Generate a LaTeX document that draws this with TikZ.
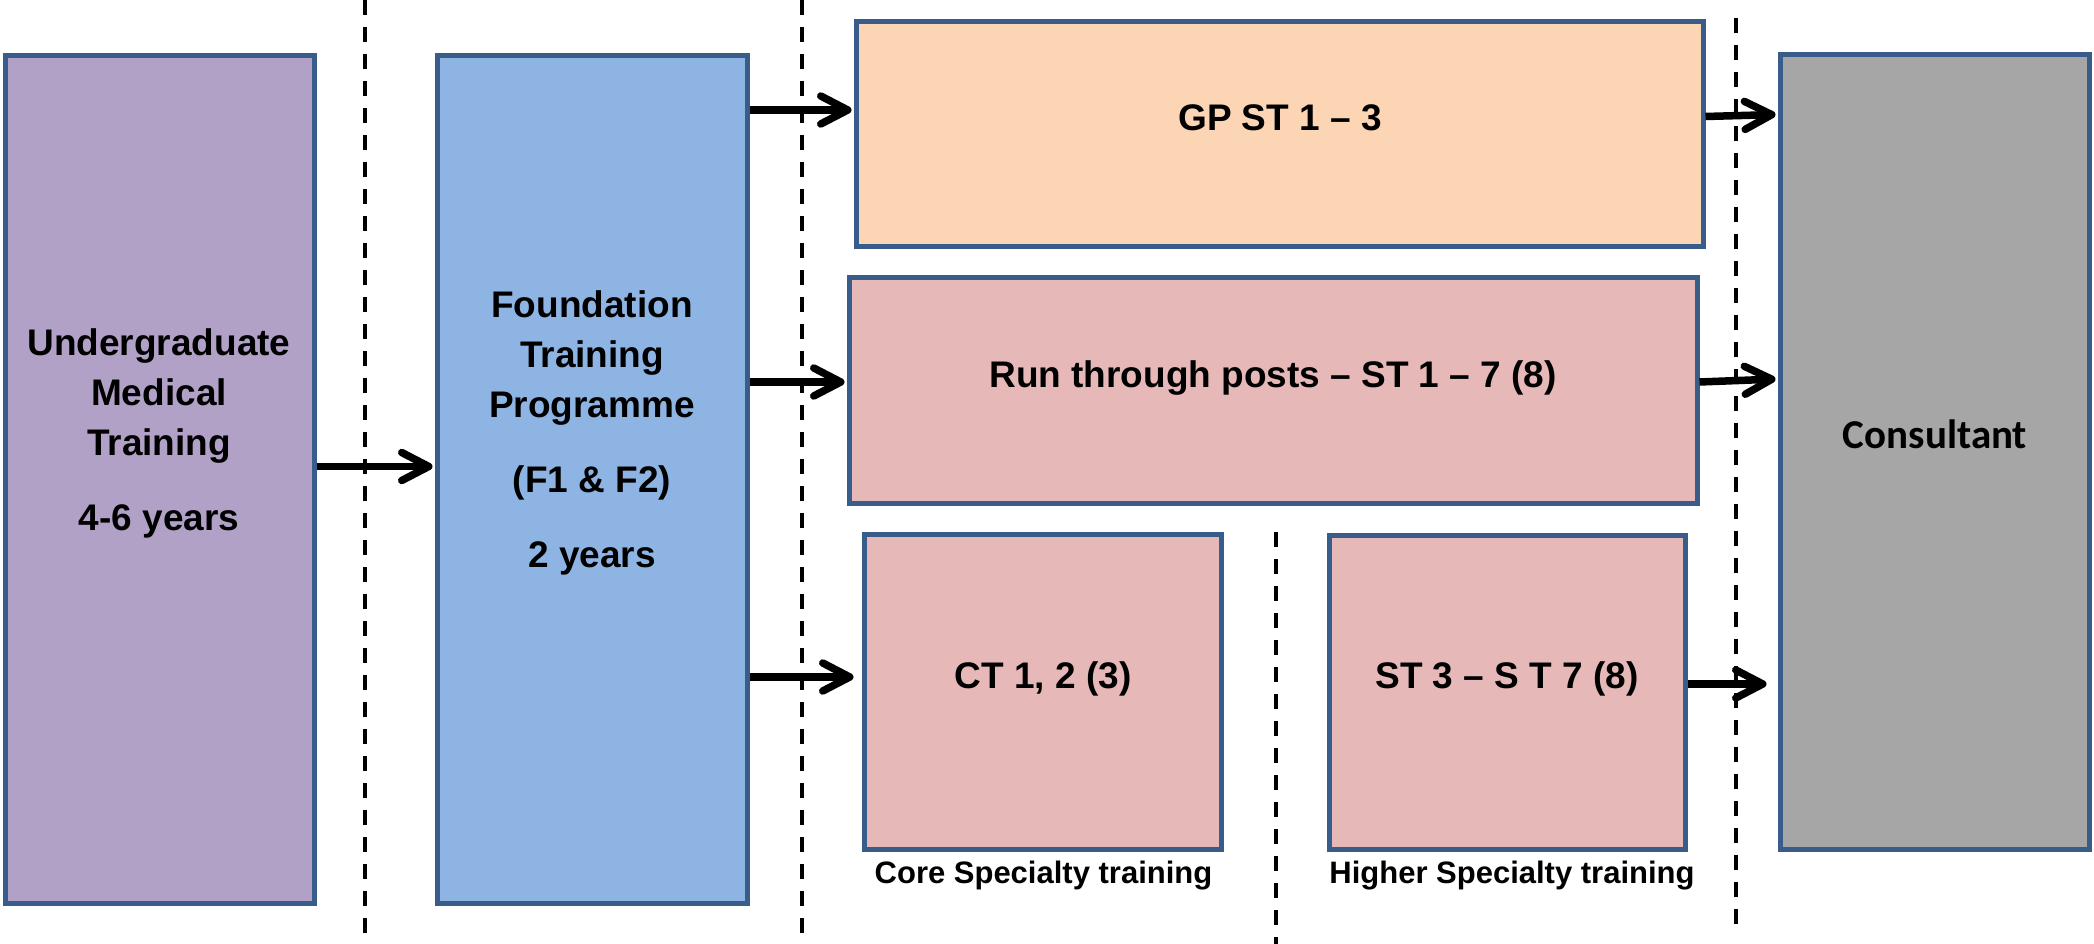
\documentclass[tikz,border=0pt]{standalone}
\usepackage{fontspec}
\setmainfont{Liberation Sans}
\newfontfamily\carlitofont{Carlito}
\usetikzlibrary{arrows.meta,calc}
\definecolor{bord}{HTML}{385D8A}
\definecolor{ugfill}{HTML}{B2A1C7}
\definecolor{fdfill}{HTML}{8EB4E3}
\definecolor{gpfill}{HTML}{FCD5B5}
\definecolor{stfill}{HTML}{E6B9B8}
\definecolor{cnfill}{HTML}{A6A6A6}
\begin{document}
\begin{tikzpicture}[x=1pt,y=-1pt,
  box/.style={draw=bord, line width=5pt, rectangle, inner sep=0pt},
  txt/.style={font=\fontsize{37}{50}\selectfont\bfseries, inner sep=0pt, align=center},
  lbl/.style={font=\fontsize{31}{36}\selectfont\bfseries, inner sep=0pt},
  arr/.style={line width=7.5pt, -{Straight Barb[length=27pt,width=28pt,round]}, shorten >=2pt},
  sep/.style={line width=4pt, dash pattern=on 15pt off 12pt}]
\useasboundingbox (0,0) rectangle (2094,944);
% separators
\draw[sep] (365,0) -- (365,944);
\draw[sep] (802,0) -- (802,944);
\draw[sep] (1736,18) -- (1736,931);
\draw[sep] (1276,532) -- (1276,944);
% boxes
\node[box, fill=ugfill, minimum width=309pt, minimum height=847pt] (U) at (159.5,479.5) {};
\node[box, fill=fdfill, minimum width=310pt, minimum height=847pt] (F) at (592,479.5) {};
\node[box, fill=gpfill, minimum width=847pt, minimum height=225pt] (GP) at (1279.5,134.5) {};
\node[box, fill=stfill, minimum width=848pt, minimum height=226pt] (RT) at (1273,390) {};
\node[box, fill=stfill, minimum width=357pt, minimum height=315pt] (CT) at (1042.5,691.5) {};
\node[box, fill=stfill, minimum width=356pt, minimum height=314pt] (HS) at (1507,692) {};
\node[box, fill=cnfill, minimum width=309pt, minimum height=794pt] (CN) at (1934.5,452) {};
% texts
\node[txt, anchor=north] (tU) at (159,328) {Undergraduate\\Medical\\Training\\[25pt]4-6 years};
\node[txt, anchor=north] (tF) at (592,290) {Foundation\\Training\\Programme\\[25pt](F1 \& F2)\\[25pt]2 years};
\node[txt, anchor=base] (tGP) at (1280,131) {GP ST 1 – 3};
\node[txt, anchor=base] (tRT) at (1273,387) {Run through posts – ST 1 – 7 (8)};
\node[txt, anchor=base] (tCT) at (1043,688) {CT 1, 2 (3)};
\node[txt, anchor=base] (tHS) at (1507,688) {ST 3 – S T 7 (8)};
\node[anchor=base, inner sep=0pt, font=\carlitofont\fontsize{41}{50}\selectfont\bfseries] (tCN) at (1935,448) {Consultant};
\node[lbl, anchor=base] (lCore) at (1043.5,883) {Core Specialty training};
\node[lbl, anchor=base] (lHigh) at (1512,883) {Higher Specialty training};
% connectors
\draw[arr] ([yshift=13pt]U.east) -- ([yshift=13pt]F.west);
\coordinate (g1) at ([yshift=24.5pt]GP.west);
\draw[arr] (F.east |- g1) -- (g1);
\coordinate (g2) at ([yshift=8pt]RT.west);
\draw[arr] (F.east |- g2) -- (g2);
\coordinate (g3) at ([yshift=14.5pt]CT.west);
\draw[arr, shorten >=8pt] (F.east |- g3) -- (g3);
\coordinate (c1) at ([yshift=20pt]GP.east);
\draw[arr] ([yshift=18pt]GP.east) -- (CN.west |- c1);
\coordinate (c2) at ([yshift=11pt]RT.east);
\draw[arr] ([yshift=8pt]RT.east) -- (CN.west |- c2);
\coordinate (c3) at ([yshift=8pt]HS.east);
\draw[arr, shorten >=11pt] (c3) -- (CN.west |- c3);
\end{tikzpicture}
\end{document}
